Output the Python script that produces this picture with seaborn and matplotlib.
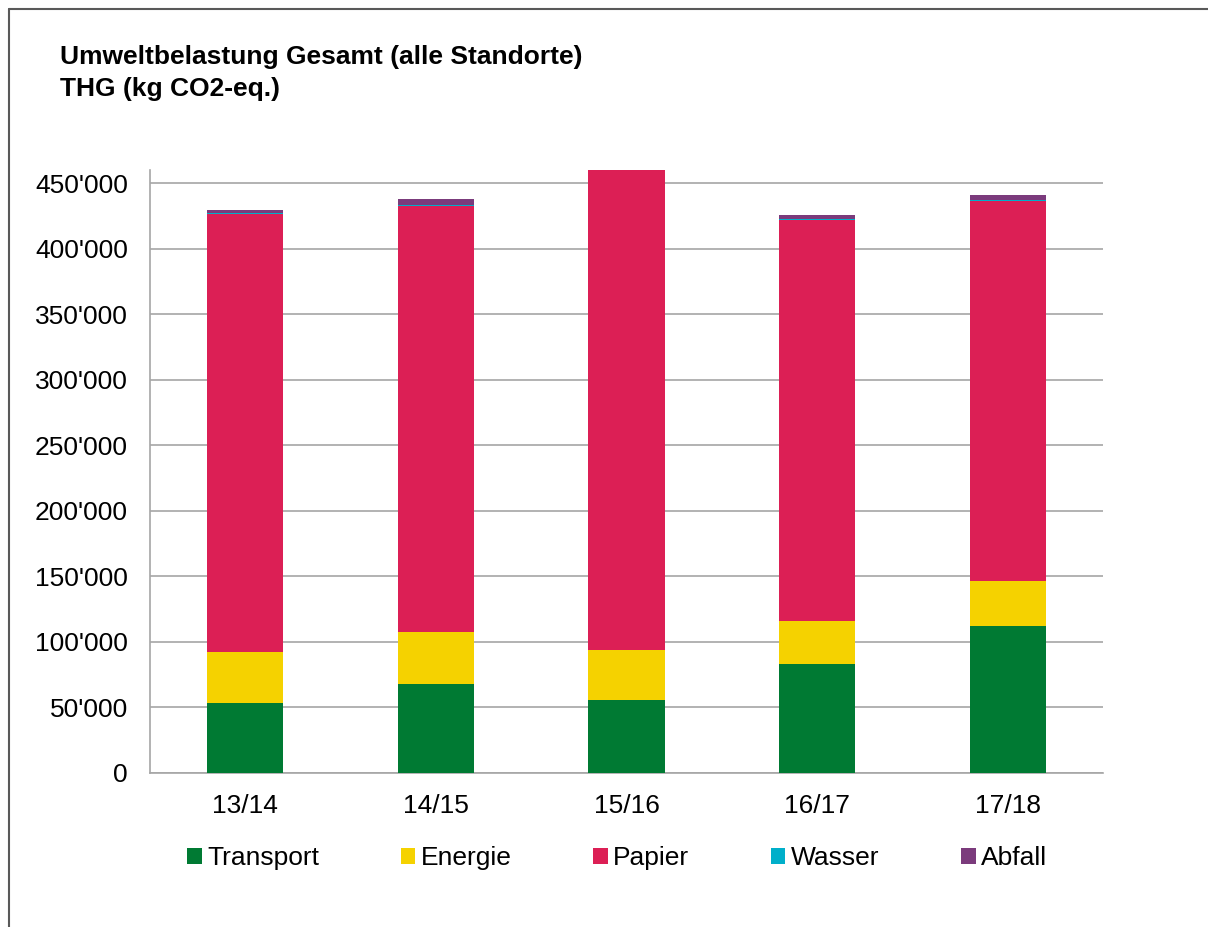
import matplotlib
matplotlib.use("Agg")
import matplotlib.pyplot as plt
import matplotlib.ticker as mticker
from matplotlib.patches import Patch
from matplotlib.lines import Line2D
import seaborn as sns
import pandas as pd
import numpy as np

years = ["13/14", "14/15", "15/16", "16/17", "17/18"]
series = ["Transport", "Energie", "Papier", "Wasser", "Abfall"]
transport = [53500, 68000, 55500, 83000, 112000]
energie = [38800, 39500, 38100, 32700, 34400]
papier = [334400, 325200, 375000, 306500, 290200]
wasser = [300, 300, 300, 300, 300]
abfall = [2800, 4600, 4000, 3500, 3900]
colors = ["#007a33", "#f5d200", "#dc1f55", "#00afca", "#7b3b7c"]

sns.set_theme(style="white")
plt.rcParams["font.family"] = ["Liberation Sans", "DejaVu Sans"]
plt.rcParams["text.color"] = "black"

fig = plt.figure(figsize=(12.08, 9.27), dpi=100)
ax = fig.add_axes([150/1208, 1-773/927, (1103-150)/1208, (773-170)/927])

values = [transport, energie, papier, wasser, abfall]
cum = np.cumsum(np.array(values), axis=0)
df = pd.DataFrame({"Jahr": years})
for name, c in zip(series, cum):
    df[name] = c

# draw from the top cumulative down so lower segments overlay
for i in range(len(series) - 1, -1, -1):
    sns.barplot(data=df, x="Jahr", y=series[i], color=colors[i], width=0.4,
                saturation=1, ax=ax, edgecolor="none", linewidth=0, zorder=3)

ax.set_ylim(0, 460000)
ax.set_xlim(-0.5, 4.5)
ax.set_yticks(np.arange(0, 450001, 50000))
ax.yaxis.set_major_formatter(mticker.FuncFormatter(lambda v, p: f"{int(v):,}".replace(",", "'")))
ax.grid(axis="y", color="#a6a6a6", linewidth=1.2, zorder=0)
ax.set_axisbelow(True)
ax.set_xlabel("")
ax.set_ylabel("")
for s in ["top", "right"]:
    ax.spines[s].set_visible(False)
ax.spines["left"].set_color("#a6a6a6")
ax.spines["bottom"].set_color("#a6a6a6")
ax.spines["left"].set_linewidth(1.2)
ax.spines["bottom"].set_linewidth(1.2)
ax.tick_params(axis="both", length=0, labelsize=19, colors="black")
ax.tick_params(axis="y", pad=16)
ax.tick_params(axis="x", pad=15)

handles = [Patch(facecolor=c, edgecolor="none") for c in colors]
leg = fig.legend(handles, series, loc="center", bbox_to_anchor=(617/1208, 1-858/927), ncol=5,
                 frameon=False, fontsize=19, handlelength=0.55, handleheight=0.55,
                 handletextpad=0.2, columnspacing=3.1)
for t in leg.get_texts():
    t.set_color("black")

fig.text(60/1208, 1-64/927, "Umweltbelastung Gesamt (alle Standorte)", fontsize=19,
         fontweight="bold", ha="left", va="baseline", color="black")
fig.text(60/1208, 1-96/927, "THG (kg CO2-eq.)", fontsize=19,
         fontweight="bold", ha="left", va="baseline", color="black")

# figure frame (left and top edges)
fig.add_artist(Line2D([8.5/1208, 8.5/1208], [0, 1-8.5/927], transform=fig.transFigure,
                      color="#595959", linewidth=1.5))
fig.add_artist(Line2D([8.5/1208, 1], [1-8.5/927, 1-8.5/927], transform=fig.transFigure,
                      color="#595959", linewidth=1.5))

fig.savefig("out.png", dpi=100)
